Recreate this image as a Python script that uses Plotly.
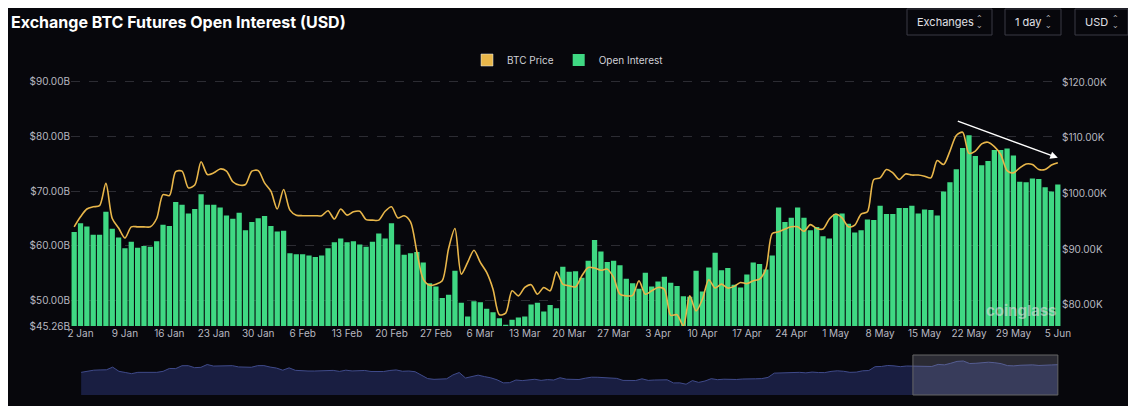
import pandas as pd
import plotly.graph_objects as go

dates = pd.date_range("2025-01-01", periods=156, freq="D")

# open interest, billions USD
open_interest = [
    62.5, 64.1, 63.5, 62.0, 62.0, 66.2, 63.1, 61.5, 59.5, 60.7, 59.6, 59.9, 59.8, 60.8, 63.8, 63.6,
    68.0, 67.5, 65.9, 66.7, 69.4, 67.5, 67.5, 67.0, 65.5, 64.9, 66.0, 62.8, 64.3, 65.0, 65.4, 63.6,
    62.6, 62.7, 58.6, 58.4, 58.4, 58.2, 57.9, 58.2, 59.5, 60.6, 61.3, 60.6, 60.8, 60.2, 59.8, 60.7,
    62.2, 61.3, 64.1, 60.2, 58.3, 58.6, 58.8, 56.9, 53.1, 52.5,
    50.4, 51.0, 55.4, 49.5, 47.0, 49.8, 49.6, 48.4, 47.8, 46.7, 45.5, 46.4, 46.8, 47.0, 49.2, 49.5,
    47.9, 49.1, 48.5, 56.1, 55.2, 55.3, 54.1, 57.2, 61.0, 58.9, 57.0, 57.2, 56.4, 53.9, 53.1, 52.1,
    55.0, 52.5, 53.4, 54.3, 53.2, 52.6, 50.7, 50.6, 55.4, 51.6, 56.0, 58.7, 55.5, 55.9, 52.8, 52.3,
    54.7, 56.9, 56.6, 55.6, 58.2, 67.0, 64.3, 65.1, 67.0,
    65.1, 62.8, 63.4, 61.7, 61.3, 65.8, 65.9, 64.0, 62.4, 62.8, 64.8, 64.7, 67.3, 65.8, 65.8, 66.9,
    66.9, 67.3, 65.9, 66.6, 66.5, 65.5, 69.9, 71.6, 74.0, 77.9, 80.2, 76.4, 74.7, 75.5, 77.5, 77.5,
    77.8, 76.5, 71.7, 71.6, 72.3, 72.2, 70.7, 69.9, 71.2,
]

# BTC price, thousands USD
btc_price = [
    94.0, 95.8, 97.2, 97.6, 97.8, 101.8, 95.5, 93.8, 92.0, 94.0, 94.0, 94.0, 94.0, 95.5, 99.8, 99.6,
    103.9, 104.0, 101.0, 101.5, 105.7, 103.4, 103.7, 104.4, 104.0, 102.1, 101.5, 101.6, 104.0, 104.1,
    101.9, 100.4, 97.2, 100.7, 97.0, 96.1, 96.0, 96.0, 96.0, 96.0, 96.9, 95.4, 97.2, 96.1, 96.7, 96.8,
    95.3, 95.2, 95.2, 96.8, 97.6, 95.6, 96.0, 94.9, 89.5, 84.6, 83.5, 83.7,
    84.3, 90.1, 93.7, 85.5, 87.6, 89.8, 87.6, 85.8, 82.8, 78.2, 78.5, 82.5, 81.6, 83.1, 83.6, 81.9,
    83.1, 82.5, 85.9, 83.7, 83.4, 83.2, 85.2, 86.7, 86.6, 86.2, 86.4, 84.9, 81.9, 81.6, 81.7, 84.3,
    81.9, 82.5, 83.1, 82.8, 78.1, 78.2, 76.2, 81.6, 78.9, 81.0, 84.5, 83.0, 83.7, 83.0, 83.3, 84.0,
    83.8, 84.3, 84.6, 86.4, 92.8, 93.1, 93.6, 94.0,
    94.0, 93.2, 94.4, 93.7, 93.6, 95.4, 96.3, 95.6, 94.0, 94.3, 96.3, 96.7, 102.5, 102.8, 104.3, 103.7,
    102.5, 103.5, 103.3, 103.3, 103.1, 102.8, 105.9, 105.2, 107.6, 110.4, 111.0, 107.2, 107.6, 108.9,
    109.2, 108.4, 107.0, 104.1, 103.7, 104.6, 105.3, 105.2, 104.3, 104.3, 105.1, 105.5,
]

oi_ticks = [45.26, 50, 60, 70, 80, 90]
price_ticks = [80, 90, 100, 110, 120]
x_ticks = pd.date_range("2025-01-02", "2025-06-05", freq="7D")

bg = "#07070c"
grid = "#2c2c33"
font = "Inter, Roboto, sans-serif"
H = 327  # plot height in px
W = 990  # plot width in px


def py(pix):
    # screen pixel row -> paper y (page has an 8px body margin)
    return (396 - pix) / H


def px(pix):
    return (pix - 71) / W


fig = go.Figure()
# legend entry as a square for the price line
fig.add_trace(go.Bar(x=[dates[0]], y=[0], name="BTC Price", marker_color="#e8b64a", hoverinfo="skip"))
fig.add_trace(go.Bar(x=dates, y=open_interest, name="Open Interest", marker_color="#3fd883",
                     marker_line_width=0, yaxis="y"))
fig.add_trace(go.Scatter(x=dates, y=btc_price, name="BTC Price", mode="lines", showlegend=False,
                         line=dict(color="#e8b64a", width=1.6, shape="spline", smoothing=0.8), yaxis="y2"))
# navigator at the bottom
fig.add_trace(go.Scatter(x=dates, y=btc_price, mode="lines", showlegend=False, hoverinfo="skip",
                         line=dict(color="#3f4a8a", width=1), fill="tozeroy",
                         fillcolor="rgba(40,50,110,0.55)", xaxis="x3", yaxis="y3"))

xr = ["2024-12-31 12:00", "2025-06-05 12:00"]
fig.update_layout(
    width=1136, height=406,
    paper_bgcolor=bg, plot_bgcolor=bg,
    font=dict(family=font, color="#b8b8c0", size=10),
    margin=dict(l=63, r=1136 - 63 - W, t=61, b=18, autoexpand=False),
    bargap=0.17,
    barmode="overlay",
    showlegend=True,
    legend=dict(orientation="h", x=px(568), xanchor="center", y=py(60), yanchor="middle",
                font=dict(size=10, color="#d0d0d6")),
    xaxis=dict(range=xr, tickvals=x_ticks, tickformat="%-d %b", showgrid=False,
               anchor="y", ticks="", zeroline=False, tickfont=dict(size=10, color="#b8b8c0")),
    yaxis=dict(domain=[py(326), 1], range=[45.26, 92.36], tickvals=oi_ticks,
               ticktext=[f"${v:.2f}B" for v in oi_ticks], gridcolor=grid, griddash="dash",
               zeroline=False, tickfont=dict(size=10, color="#b8b8c0")),
    yaxis2=dict(overlaying="y", side="right", range=[76.18, 122.36], tickvals=price_ticks,
                ticktext=[f"${v:.2f}K" for v in price_ticks], showgrid=False, zeroline=False,
                tickfont=dict(size=10, color="#b8b8c0")),
    xaxis3=dict(domain=[px(78), 1], range=xr, visible=False, anchor="y3"),
    yaxis3=dict(domain=[py(395), py(355)], range=[60, 120], visible=False),
)

fig.add_annotation(xref="paper", yref="paper", x=px(9), y=py(22), xanchor="left", yanchor="middle",
                   text="<b>Exchange BTC Futures Open Interest (USD)</b>", showarrow=False,
                   font=dict(size=16, color="#ffffff"))
for label, x0, x1 in [("Exchanges", 907, 992), ("1 day", 1005, 1061), ("USD", 1075, 1128)]:
    fig.add_shape(type="rect", xref="paper", yref="paper",
                  x0=px(x0), x1=px(x1), y0=py(35), y1=py(9),
                  line=dict(color="#3a3a44", width=1), fillcolor=bg)
    fig.add_annotation(xref="paper", yref="paper", x=px(x0 + 8), y=py(22), xanchor="left",
                       yanchor="middle", text=label, showarrow=False, font=dict(size=11, color="#e0e0e6"))
    fig.add_annotation(xref="paper", yref="paper", x=px(x1 - 8), y=py(22), xanchor="right",
                       yanchor="middle", text="⌃<br>⌄", showarrow=False, font=dict(size=6, color="#e0e0e6"))

# trend arrow
fig.add_annotation(x="2025-06-05", y=106.4, ax="2025-05-20", ay=113.1,
                   xref="x", yref="y2", axref="x", ayref="y2", text="", showarrow=True,
                   arrowhead=2, arrowsize=1, arrowwidth=1.5, arrowcolor="#ffffff")
fig.add_annotation(xref="paper", yref="paper", x=px(1058), y=py(310), text="<b>coinglass</b>",
                   showarrow=False, xanchor="right", yanchor="middle",
                   font=dict(size=15, color="rgba(220,220,220,0.6)"))

# navigator selection
fig.add_shape(type="rect", xref="x3", yref="paper", x0="2025-05-13", x1="2025-06-05",
              y0=py(395), y1=py(355), fillcolor="rgba(150,150,170,0.25)", line=dict(color="#666", width=1))

fig.write_html("out.html")
